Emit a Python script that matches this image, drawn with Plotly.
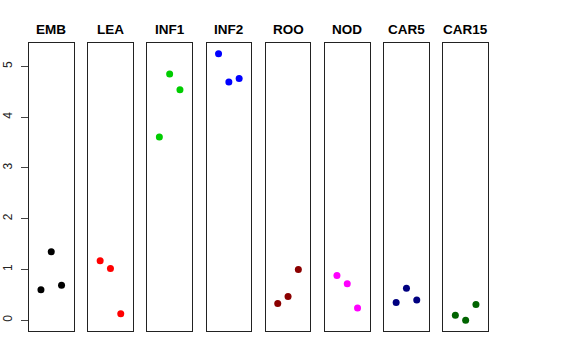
import plotly.graph_objects as go

tissues = ["EMB", "LEA", "INF1", "INF2", "ROO", "NOD", "CAR5", "CAR15"]
colors = ["#000000", "#FF0000", "#00CD00", "#0000FF", "#8B0000", "#FF00FF", "#000080", "#006400"]
replicate = [1, 2, 3]
emb = [0.60, 1.35, 0.69]
lea = [1.17, 1.02, 0.13]
inf1 = [3.61, 4.85, 4.54]
inf2 = [5.25, 4.69, 4.76]
roo = [0.33, 0.47, 1.00]
nod = [0.88, 0.72, 0.24]
car5 = [0.35, 0.63, 0.40]
car15 = [0.10, 0.00, 0.31]
values = [emb, lea, inf1, inf2, roo, nod, car5, car15]
y_ticks = [0, 1, 2, 3, 4, 5]

W, H = 576, 360
fig = go.Figure()
left0, step, pw = 29.0, 59.2, 44.5
top_px, bot_px = 43.0, 330.7
ydom = [1 - bot_px / H, 1 - top_px / H]

annotations = []
for i, (name, col, vals) in enumerate(zip(tissues, colors, values)):
    ax = "" if i == 0 else str(i + 1)
    x0 = left0 + i * step
    fig.add_trace(go.Scatter(
        x=replicate, y=vals, mode="markers",
        marker=dict(color=col, size=7, line=dict(width=0)),
        xaxis="x" + ax, yaxis="y" + ax, showlegend=False, hoverinfo="skip"))
    fig.update_layout(**{
        "xaxis" + ax: dict(domain=[x0 / W, (x0 + pw) / W], range=[-0.16, 4.16],
                           showgrid=False, zeroline=False, showticklabels=False,
                           ticks="", showline=True, mirror=True, linecolor="#222",
                           linewidth=1, anchor="y" + ax, fixedrange=True),
        "yaxis" + ax: dict(domain=ydom, range=[-0.205, 5.46],
                           showgrid=False, zeroline=False,
                           showticklabels=(i == 0), ticks="outside" if i == 0 else "",
                           tickvals=y_ticks, ticklen=7, tickcolor="#444", tickwidth=1,
                           tickangle=-90, ticklabelstandoff=4,
                           tickfont=dict(family="Liberation Sans", size=12, color="#222"),
                           showline=True, mirror=True, linecolor="#222", linewidth=1,
                           anchor="x" + ax, automargin=False, fixedrange=True),
    })
    annotations.append(dict(text="<b>%s</b>" % name, x=(x0 + pw / 2) / W, y=1 - 29 / H,
                            xref="paper", yref="paper", showarrow=False,
                            xanchor="center", yanchor="middle",
                            font=dict(family="Liberation Sans", size=13.5, color="black")))

fig.update_layout(width=W, height=H, margin=dict(l=0, r=0, t=0, b=0),
                  paper_bgcolor="white", plot_bgcolor="white",
                  annotations=annotations)
fig.write_html("out.html", config={"displayModeBar": False},
               post_script="document.body.style.margin='0';document.body.style.overflow='hidden';")
